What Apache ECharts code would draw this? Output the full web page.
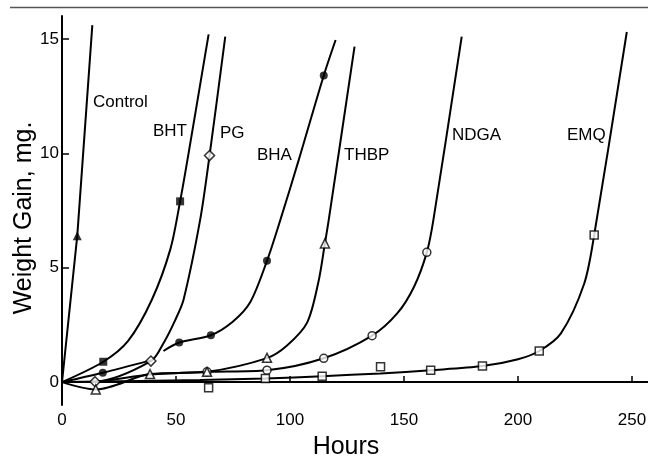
<!DOCTYPE html>
<html>
<head>
<meta charset="utf-8">
<script src="https://cdn.jsdelivr.net/npm/echarts@6.0.0/dist/echarts.min.js"></script>
<style>
    html, body { margin: 0; padding: 0; background: #fff; }
    #chart { width: 648px; height: 456px; }
</style>
</head>
<body>
<div id="chart"></div>
<script>
// tick values
var hourTicks = [0, 50, 100, 150, 200, 250];
var gainTicks = [0, 5, 10, 15];

// drawn lines, [hours, mg]
var controlCurve = [[0, 0], [6.7, 6.4], [13.3, 15.6]];
var bhtCurve = [[0, 0], [18.1, 0.89], [29, 1.8], [39.4, 3.6], [47.5, 5.8], [51.8, 7.9], [55, 9.7], [64.3, 15.2]];
var pgCurve = [[0, 0], [14.5, 0.02], [39, 0.92], [44.5, 1.7], [49.6, 2.7], [53.3, 3.6], [60.6, 7.1], [64.7, 9.9], [71.6, 15.1]];
var bhaCurve = [[0, 0], [17.9, 0.41], [39, 0.95], null, [44.5, 1.36], [51.4, 1.73], [65.3, 2.05], [75, 2.65], [82.6, 3.5], [89.9, 5.3], [95.8, 7.1], [103.8, 9.7], [114.8, 13.4], [120, 14.95]];
var thbpCurve = [[0, 0], [14.8, -0.32], [38.6, 0.35], [63.6, 0.45], [89.9, 1.05], [98.7, 1.6], [107.5, 2.6], [112.5, 4.4], [115.3, 6.06], [117, 7.1], [128.3, 14.66]];
var ndgaCurve = [[0, 0], [14.5, 0.02], [38.6, 0.33], [63.6, 0.45], [89.9, 0.52], [114.8, 1.04], [136, 2.03], [147, 3.0], [154.4, 4.17], [160, 5.67], [162.9, 7.1], [175.3, 15.1]];
var emqCurve = [[0, 0], [60.6, 0.09], [89.2, 0.16], [114.1, 0.26], [139.7, 0.38], [161.7, 0.52], [184.4, 0.7], [200, 1.0], [209.3, 1.36], [218.8, 2.13], [229, 4.3], [233.4, 6.43], [247.7, 15.3]];

// measured points
var controlPts = [[6.7, 6.4]];
var bhtPts = [[18.1, 0.89], [51.8, 7.9]];
var pgPts = [[14.5, 0.02], [39, 0.92], [64.7, 9.9]];
var bhaPts = [[17.9, 0.41], [51.4, 1.73], [65.3, 2.05], [89.9, 5.3], [114.8, 13.4]];
var thbpPts = [[14.8, -0.32], [38.6, 0.35], [63.6, 0.45], [89.9, 1.06], [115.3, 6.06]];
var ndgaPts = [[63.6, 0.45], [89.9, 0.52], [114.8, 1.04], [136, 2.03], [160, 5.67]];
var emqPts = [[64.3, -0.25], [89.2, 0.16], [114.1, 0.26], [139.7, 0.67], [161.7, 0.52], [184.4, 0.7], [209.3, 1.36], [233.4, 6.43]];

var font = '"Liberation Sans", Arial, sans-serif';

function curve(data, smooth) {
    return {
        type: 'line',
        data: data,
        smooth: smooth ? 0.3 : false,
        symbol: 'none',
        connectNulls: false,
        silent: true,
        z: 2,
        lineStyle: { color: '#000', width: 2 }
    };
}

function points(data, symbol, size, hollow) {
    return {
        type: 'scatter',
        data: data,
        symbol: symbol,
        symbolSize: size,
        z: 3,
        itemStyle: hollow
            ? { color: '#fff', borderColor: '#000', borderWidth: 1.5 }
            : { color: '#000' }
    };
}

// 标签 (pixel positions)
function label(text, x, y) {
    return {
        type: 'text', left: x, top: y - 10,
        style: { text: text, font: '17px ' + font, fill: '#000' }
    };
}

var option = {
    backgroundColor: '#fff',
    animation: false,
    grid: { left: 62, right: 0, top: 16, bottom: 51, outerBoundsMode: 'none' },
    xAxis: {
        type: 'value',
        min: 0,
        max: 257,
        axisLine: { lineStyle: { color: '#000', width: 2 } },
        axisTick: { inside: true, length: 6, customValues: hourTicks, lineStyle: { color: '#000', width: 1.5 } },
        axisLabel: { customValues: hourTicks, color: '#000', fontSize: 17, fontFamily: font, margin: 7 },
        splitLine: { show: false }
    },
    yAxis: {
        type: 'value',
        min: -1,
        max: 16,
        axisLine: { show: true, lineStyle: { color: '#000', width: 2 } },
        axisTick: { show: true, inside: true, length: 7, customValues: gainTicks, lineStyle: { color: '#000', width: 1.5 } },
        axisLabel: { customValues: gainTicks, color: '#000', fontSize: 17, fontFamily: font, margin: 3 },
        splitLine: { show: false }
    },
    graphic: [
        // 顶部分隔线
        { type: 'line', shape: { x1: 10, y1: 7.5, x2: 648, y2: 7.5 }, style: { stroke: '#555', lineWidth: 1.5 } },
        {
            type: 'text', x: 346, y: 447,
            style: { text: 'Hours', font: '25px ' + font, fill: '#000', textAlign: 'center', textVerticalAlign: 'middle' }
        },
        {
            type: 'text', x: 24, y: 218, rotation: Math.PI / 2,
            style: { text: 'Weight Gain, mg.', font: '25px ' + font, fill: '#000', textAlign: 'center', textVerticalAlign: 'middle' }
        },
        label('Control', 93, 104),
        label('BHT', 153, 133),
        label('PG', 220, 135),
        label('BHA', 257, 157),
        label('THBP', 344, 157),
        label('NDGA', 452, 137),
        label('EMQ', 567, 137)
    ],
    series: [
        curve(controlCurve, false),
        curve(bhtCurve, true),
        curve(pgCurve, true),
        curve(bhaCurve, true),
        curve(thbpCurve, true),
        curve(ndgaCurve, true),
        curve(emqCurve, true),
        points(controlPts, 'triangle', 9, false),
        points(bhtPts, 'rect', 8, false),
        points(pgPts, 'diamond', 10, true),
        points(bhaPts, 'circle', 8, false),
        points(ndgaPts, 'circle', 8, true),
        points(thbpPts, 'triangle', 9, true),
        points(emqPts, 'rect', 8, true)
    ]
};

var myChart = echarts.init(document.getElementById('chart'));
myChart.setOption(option);
</script>
</body>
</html>
